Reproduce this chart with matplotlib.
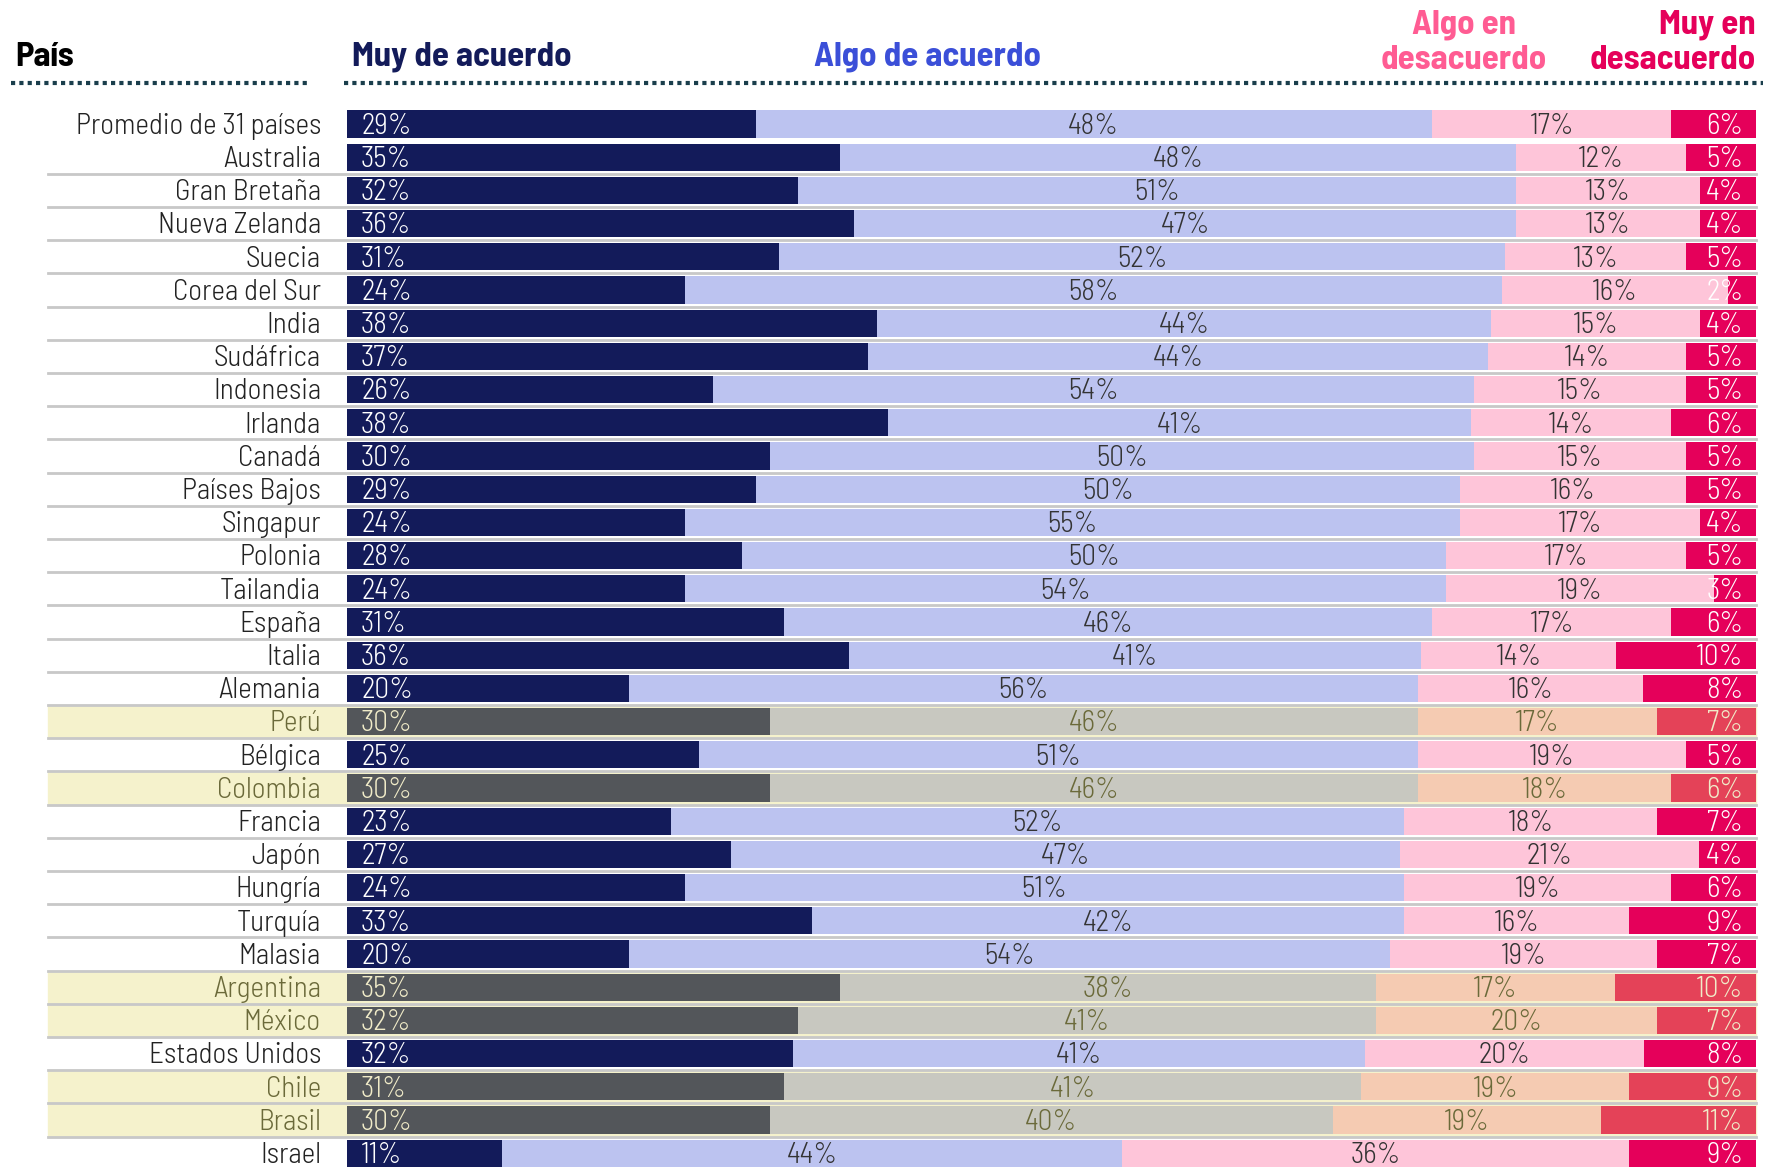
import numpy as np
import matplotlib.pyplot as plt
from matplotlib.transforms import blended_transform_factory

# datos
paises = ["Promedio de 31 países", "Australia", "Gran Bretaña", "Nueva Zelanda", "Suecia",
          "Corea del Sur", "India", "Sudáfrica", "Indonesia", "Irlanda", "Canadá",
          "Países Bajos", "Singapur", "Polonia", "Tailandia", "España", "Italia", "Alemania",
          "Perú", "Bélgica", "Colombia", "Francia", "Japón", "Hungría", "Turquía", "Malasia",
          "Argentina", "México", "Estados Unidos", "Chile", "Brasil", "Israel"]
muy_acuerdo = [29, 35, 32, 36, 31, 24, 38, 37, 26, 38, 30, 29, 24, 28, 24, 31, 36, 20,
               30, 25, 30, 23, 27, 24, 33, 20, 35, 32, 32, 31, 30, 11]
algo_acuerdo = [48, 48, 51, 47, 52, 58, 44, 44, 54, 41, 50, 50, 55, 50, 54, 46, 41, 56,
                46, 51, 46, 52, 47, 51, 42, 54, 38, 41, 41, 41, 40, 44]
algo_desacuerdo = [17, 12, 13, 13, 13, 16, 15, 14, 15, 14, 15, 16, 17, 17, 19, 17, 14, 16,
                   17, 19, 18, 18, 21, 19, 16, 19, 17, 20, 20, 19, 19, 36]
muy_desacuerdo = [6, 5, 4, 4, 5, 2, 4, 5, 5, 6, 5, 5, 4, 5, 3, 6, 10, 8,
                  7, 5, 6, 7, 4, 6, 9, 7, 10, 7, 8, 9, 11, 9]
destacados = ["Perú", "Colombia", "Argentina", "México", "Chile", "Brasil"]

W, H = 1780, 1168
FUENTE = ["Barlow Semi Condensed", "DejaVu Sans"]

col_normal = ["#131b5a", "#bcc3f0", "#fec5d9", "#e5005a"]
txt_normal = ["white", "#333333", "#333333", "white"]
col_dest = ["#53565a", "#c8c8c0", "#f5cbb2", "#e44258"]
txt_dest = ["#f0ebc8", "#6b6a3a", "#6b6a3a", "#f0ebc8"]

fig = plt.figure(figsize=(W / 100, H / 100), dpi=100)
x0, x1 = 347, 1756
y_top, pitch = 107.4, 33.2
n = len(paises)
y_bot = y_top + pitch * n
ax = fig.add_axes([x0 / W, (H - y_bot) / H, (x1 - x0) / W, pitch * n / H])
ax.set_xlim(0, 100)
ax.set_ylim(n - 0.5, -0.5)
ax.axis("off")

def ax_x(px):
    return (px - x0) / (x1 - x0)

tr = blended_transform_factory(ax.transAxes, ax.transData)

datos = np.array([muy_acuerdo, algo_acuerdo, algo_desacuerdo, muy_desacuerdo], dtype=float)
totales = datos.sum(axis=0)
et = dict(fontsize=21, fontweight=300, family=FUENTE, va="center", zorder=3)
dy = 0.07  # el texto queda un poco por debajo del centro

for i, pais in enumerate(paises):
    dest = pais in destacados
    cols = col_dest if dest else col_normal
    tcols = txt_dest if dest else txt_normal
    if dest:
        ax.axhspan(i - 0.5, i + 0.5, xmin=ax_x(48), xmax=1.0, color="#f5f2cc", zorder=0, clip_on=False)
    if 0 < i < n - 1:
        ax.axhline(i + 0.5, xmin=ax_x(48), xmax=1.0, color="#c8c8c8", lw=2, zorder=1, clip_on=False)
    izq = 0.0
    for k in range(4):
        w = datos[k, i] / totales[i] * 100
        ax.barh(i, w, left=izq, height=0.82, color=cols[k], zorder=2)
        etiqueta = f"{int(datos[k, i])}%"
        if k == 0:
            ax.text(izq + 1.0, i + dy, etiqueta, ha="left", color=tcols[k], **et)
        elif k == 3:
            ax.text(99.1, i + dy, etiqueta, ha="right", color=tcols[k], **et)
        else:
            ax.text(izq + w / 2, i + dy, etiqueta, ha="center", color=tcols[k], **et)
        izq += w
    ax.text(ax_x(321), i + dy, pais, transform=tr, ha="right",
            color="#6b6a3a" if dest else "#222222", **et)

# encabezados
def fx(px):
    return px / W

def fy(py):
    return 1 - py / H

cab = dict(fontsize=25, fontweight="bold", family=FUENTE, va="center")
fig.text(fx(15), fy(57), "País", color="black", ha="left", **cab)
fig.text(fx(352), fy(57), "Muy de acuerdo", color="#131b5a", ha="left", **cab)
fig.text(fx(927), fy(57), "Algo de acuerdo", color="#3b4fd8", ha="center", **cab)
fig.text(fx(1464), fy(42), "Algo en\ndesacuerdo", color="#ff5c93", ha="center",
         linespacing=1.22, **cab)
fig.text(fx(1756), fy(42), "Muy en\ndesacuerdo", color="#e5005a", ha="right",
         linespacing=1.22, **cab)

for a, b in [(11, 309), (344, 1763)]:
    fig.add_artist(plt.Line2D([fx(a), fx(b)], [fy(83), fy(83)], color="#1a3e4c",
                              lw=3, linestyle=(0, (1, 1))))

fig.savefig("out.png", dpi=100)
